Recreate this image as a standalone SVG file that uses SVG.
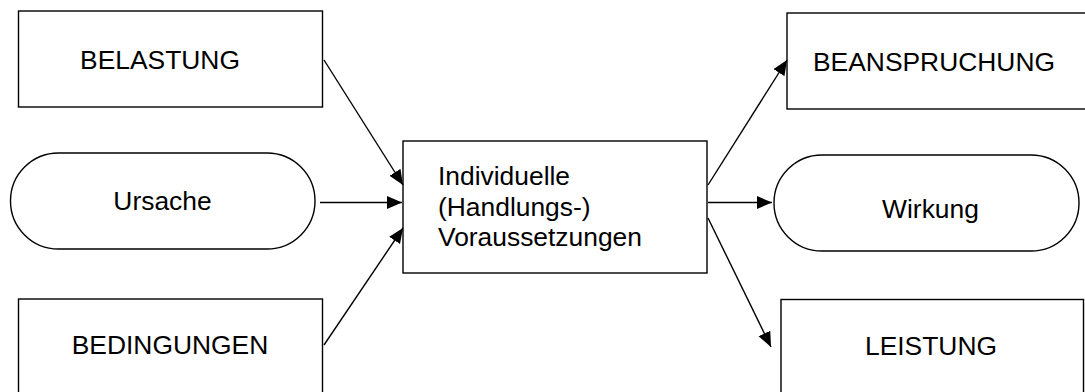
<svg xmlns="http://www.w3.org/2000/svg" width="1085" height="392" viewBox="0 0 1085 392">
<style>
.box{fill:#fff;stroke:#000;stroke-width:1.4}
.lbl{font-family:"Liberation Sans",Arial,sans-serif;font-size:26.4px;fill:#000}
.mid{text-anchor:middle}
.conn{stroke:#000;stroke-width:1.4;fill:none;marker-end:url(#ah)}
</style>
<defs>
<marker id="ah" markerUnits="userSpaceOnUse" markerWidth="16" markerHeight="14" refX="15" refY="6.5" orient="auto">
<path d="M0,0 L15,6.5 L0,13 z" fill="#000"/>
</marker>
</defs>
<rect width="1085" height="392" fill="#fff"/>
<g id="belastung">
<rect class="box" x="18.5" y="11" width="304" height="96"/>
<text class="lbl mid" x="160" y="69">BELASTUNG</text>
</g>
<g id="ursache">
<rect class="box" x="10.5" y="153" width="304.5" height="96" rx="48" ry="48"/>
<text class="lbl mid" x="162.5" y="210">Ursache</text>
</g>
<g id="bedingungen">
<rect class="box" x="18.5" y="299" width="304" height="110"/>
<text class="lbl mid" x="170" y="354">BEDINGUNGEN</text>
</g>
<g id="voraussetzungen">
<rect class="box" x="403" y="141" width="304" height="132"/>
<text class="lbl" x="438" y="185">Individuelle</text>
<text class="lbl" x="438" y="215.5">(Handlungs-)</text>
<text class="lbl" x="438" y="246">Voraussetzungen</text>
</g>
<g id="beanspruchung">
<rect class="box" x="787" y="13" width="310" height="96"/>
<text class="lbl mid" x="934" y="71">BEANSPRUCHUNG</text>
</g>
<g id="wirkung">
<rect class="box" x="774" y="155" width="305" height="96" rx="48" ry="48"/>
<text class="lbl mid" x="930.5" y="218">Wirkung</text>
</g>
<g id="leistung">
<rect class="box" x="781" y="299.5" width="302.5" height="110"/>
<text class="lbl mid" x="931" y="355">LEISTUNG</text>
</g>
<g id="connectors">
<line class="conn" x1="324" y1="60" x2="403" y2="185"/>
<line class="conn" x1="320" y1="202.5" x2="402" y2="202.5"/>
<line class="conn" x1="324" y1="345" x2="403" y2="228"/>
<line class="conn" x1="708" y1="185" x2="787" y2="60"/>
<line class="conn" x1="708" y1="202.5" x2="772" y2="202.5"/>
<line class="conn" x1="708" y1="218" x2="771" y2="347"/>
</g>
</svg>
